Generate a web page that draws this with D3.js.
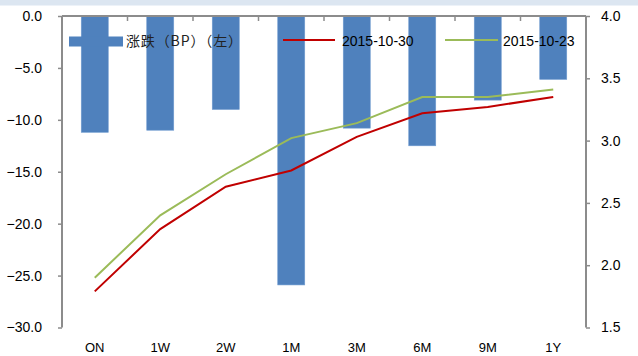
<!DOCTYPE html>
<html><head><meta charset="utf-8">
<script src="https://cdn.jsdelivr.net/npm/d3@7"></script>
<style>
html,body{margin:0;padding:0;background:#fff;}
svg{display:block;font-family:"Liberation Sans","Noto Sans",sans-serif;}
</style></head>
<body>
<svg id="c" width="638" height="356"></svg>
<script>
const categories = ["ON","1W","2W","1M","3M","6M","9M","1Y"];
const changeBP = [-11.2,-11.0,-9.0,-25.9,-10.8,-12.5,-8.1,-6.1];
const rate1030 = [1.79,2.29,2.63,2.76,3.03,3.22,3.27,3.35];
const rate1023 = [1.90,2.40,2.73,3.02,3.14,3.35,3.35,3.41];
const leftTicks = [0,-5,-10,-15,-20,-25,-30];
const rightTicks = [4.0,3.5,3.0,2.5,2.0,1.5];
const legendLabels = ["涨跌（BP）（左）","2015-10-30","2015-10-23"];

const svg = d3.select("#c");
const W = 638, H = 356;
const L = 62, R = 586, T = 16, B = 327.5;
const axisColor = "#8c8c8c";

svg.append("rect").attr("x",0).attr("y",0).attr("width",W).attr("height",5.5).attr("fill","#dce6f1");

const xb = d3.scaleBand().domain(categories).range([L,R]);
const yL = d3.scaleLinear().domain([-30,0]).range([B,T]);
const yR = d3.scaleLinear().domain([1.5,4.0]).range([B,T]);

// bars
svg.append("g").selectAll("rect").data(changeBP).join("rect")
  .attr("x",(d,i)=>xb(categories[i]) + xb.bandwidth()/2 - 13.5)
  .attr("width",27)
  .attr("y",yL(0))
  .attr("height",d=>yL(d)-yL(0))
  .attr("fill","#4f81bd")
  .attr("stroke","#6f9bd0").attr("stroke-width",0.6);

// left axis
const gl = svg.append("g").attr("transform",`translate(${L},0)`)
  .call(d3.axisLeft(yL).tickValues(leftTicks).tickFormat(d3.format(".1f")).tickSize(4).tickPadding(16));
gl.select(".domain").attr("stroke",axisColor).attr("stroke-width",2).attr("d",`M0,${T}V${B}`);
gl.selectAll(".tick line").attr("stroke",axisColor).attr("stroke-width",1.5);
gl.selectAll(".tick text").attr("font-size",14).attr("fill","#000");

// right axis
const gr = svg.append("g").attr("transform",`translate(${R},0)`)
  .call(d3.axisRight(yR).tickValues(rightTicks).tickFormat(d3.format(".1f")).tickSize(4).tickPadding(11));
gr.select(".domain").attr("stroke",axisColor).attr("stroke-width",2).attr("d",`M0,${T}V${B}`);
gr.selectAll(".tick line").attr("stroke",axisColor).attr("stroke-width",1.5);
gr.selectAll(".tick text").attr("font-size",14).attr("fill","#000");

// top category axis at 0
const gt = svg.append("g").attr("transform",`translate(0,${yL(0)})`);
gt.append("line").attr("x1",L).attr("x2",R).attr("y1",0).attr("y2",0).attr("stroke",axisColor).attr("stroke-width",2);
gt.selectAll("line.tk").data(categories.slice(1)).join("line").attr("class","tk")
  .attr("x1",d=>xb(d)).attr("x2",d=>xb(d)).attr("y1",0).attr("y2",5)
  .attr("stroke",axisColor).attr("stroke-width",1.5);

// category labels at bottom
svg.append("g").selectAll("text").data(categories).join("text")
  .attr("x",d=>xb(d)+xb.bandwidth()/2).attr("y",352)
  .attr("text-anchor","middle").attr("font-size",13).attr("fill","#000").text(d=>d);

// lines
const line = d3.line().x((d,i)=>xb(categories[i])+xb.bandwidth()/2).y(d=>yR(d));
svg.append("path").datum(rate1023).attr("d",line).attr("fill","none").attr("stroke","#9bbb59").attr("stroke-width",2);
svg.append("path").datum(rate1030).attr("d",line).attr("fill","none").attr("stroke","#c00000").attr("stroke-width",2);

// legend
const lg = svg.append("g");
lg.append("rect").attr("x",69).attr("y",36.5).attr("width",54).attr("height",10).attr("fill","#4f81bd");
lg.append("text").attr("x",126).attr("y",46).attr("font-size",14).attr("fill","#222")
  .attr("font-family","'Noto Sans CJK SC',sans-serif")
  .attr("textLength",116).attr("lengthAdjust","spacing").text(legendLabels[0]);
lg.append("line").attr("x1",283).attr("x2",335).attr("y1",40).attr("y2",40).attr("stroke","#c00000").attr("stroke-width",2);
lg.append("text").attr("x",342).attr("y",46).attr("font-size",14).attr("fill","#000").text(legendLabels[1]);
lg.append("line").attr("x1",445).attr("x2",498).attr("y1",40).attr("y2",40).attr("stroke","#9bbb59").attr("stroke-width",2);
lg.append("text").attr("x",503).attr("y",46).attr("font-size",14).attr("fill","#000").text(legendLabels[2]);
</script>
</body></html>
